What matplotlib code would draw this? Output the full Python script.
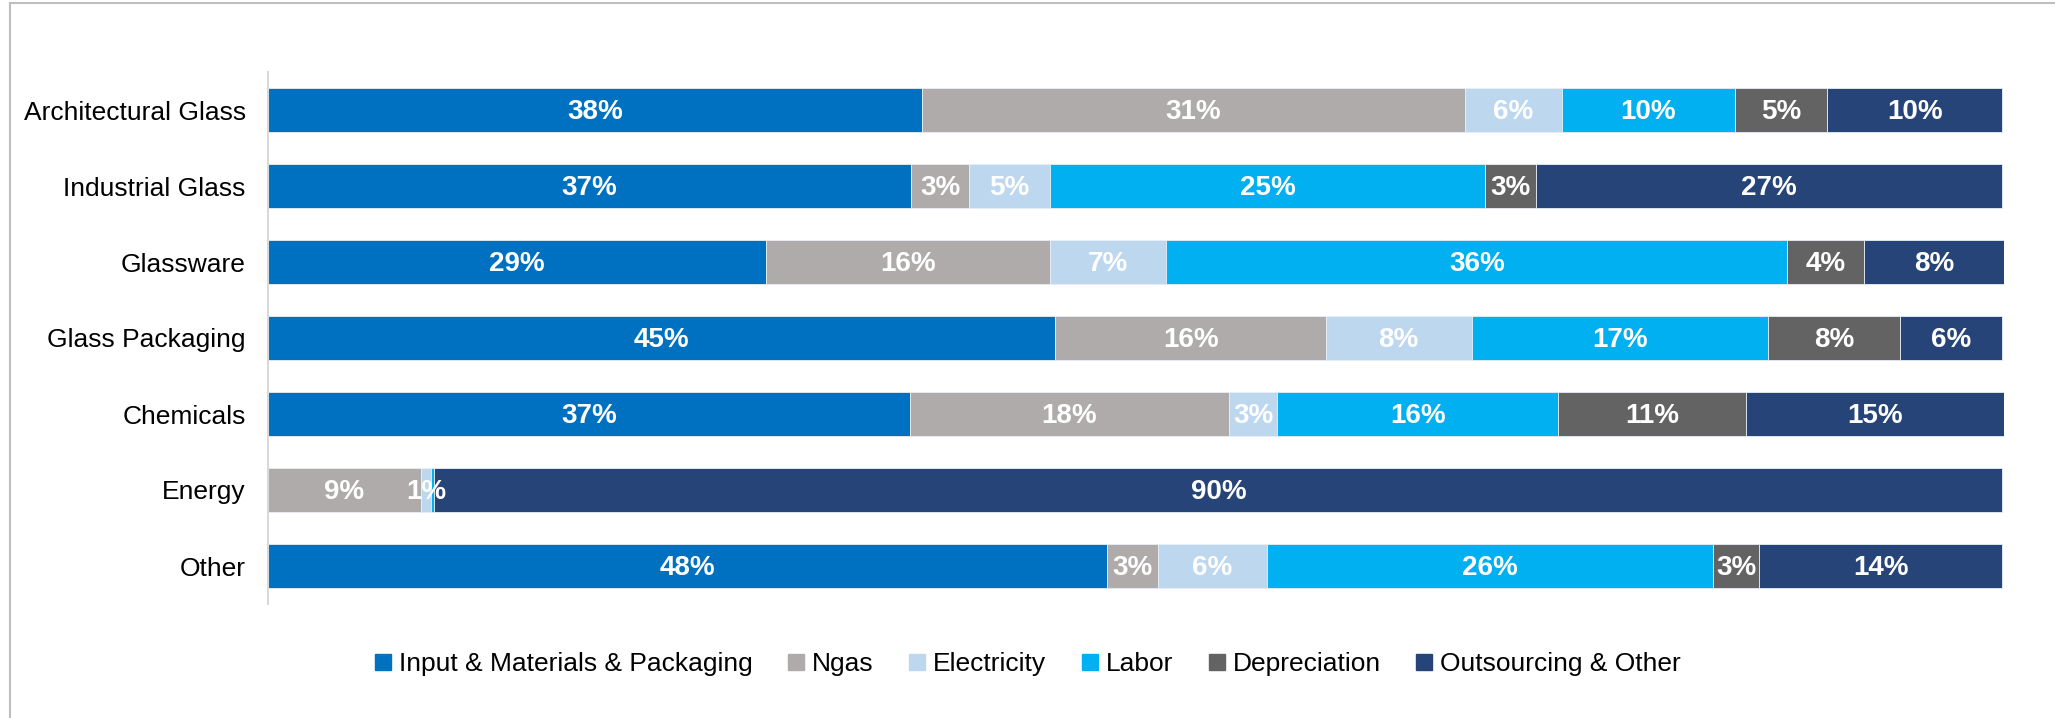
import matplotlib
matplotlib.use("Agg")
import matplotlib.pyplot as plt
from matplotlib.lines import Line2D
import numpy as np

plt.rcParams['font.family'] = ['Liberation Sans', 'DejaVu Sans']

categories = ["Architectural Glass", "Industrial Glass", "Glassware", "Glass Packaging",
              "Chemicals", "Energy", "Other"]
series_names = ["Input & Materials & Packaging", "Ngas", "Electricity", "Labor",
                "Depreciation", "Outsourcing & Other"]
input_mat = [37.7, 37.1, 28.7, 45.4, 37.0, 0.0, 48.4]
ngas = [31.3, 3.3, 16.4, 15.6, 18.4, 8.8, 2.9]
electricity = [5.6, 4.7, 6.7, 8.4, 2.8, 0.6, 6.3]
labor = [10.0, 25.1, 35.8, 17.1, 16.2, 0.2, 25.7]
depreciation = [5.3, 2.9, 4.4, 7.6, 10.8, 0.0, 2.7]
outsourcing = [10.1, 26.9, 8.1, 5.9, 14.9, 90.4, 14.0]
colors = ["#0070C0", "#AFABAB", "#BDD7EE", "#00B0F0", "#636363", "#264478"]

series = [input_mat, ngas, electricity, labor, depreciation, outsourcing]

fig = plt.figure(figsize=(20.55, 7.18), dpi=100)
ax = fig.add_axes([268/2055, 1 - 604/718, (2004 - 268)/2055, (604 - 72)/718])

y = np.arange(len(categories))
left = np.zeros(len(categories))
for name, vals, col in zip(series_names, series, colors):
    vals = np.array(vals)
    ax.barh(y, vals, left=left, height=0.57, color=col, edgecolor="#E8EEF6",
            linewidth=0.6, label=name)
    for yi, (l, v) in enumerate(zip(left, vals)):
        if v >= 0.5:
            ax.text(l + v / 2, yi + 0.02, f"{v:.0f}%", ha="center", va="center",
                    color="white", fontsize=20, fontweight="bold")
    left += vals

ax.set_xlim(0, left.max())
ax.set_ylim(len(categories) - 0.5, -0.5)
ax.set_yticks(y)
ax.set_yticklabels(categories, fontsize=19)
ax.set_xticks([])
ax.tick_params(axis="y", length=0, pad=16)
for s in ["top", "right", "bottom"]:
    ax.spines[s].set_visible(False)
ax.spines["left"].set_color("#D9D9D9")
ax.spines["left"].set_linewidth(1.5)

handles = [Line2D([], [], marker="s", linestyle="none", markersize=11,
                  markerfacecolor=c, markeredgecolor=c) for c in colors]
fig.legend(handles, series_names, loc="center", bbox_to_anchor=(1028/2055, 1 - 664/718),
           ncol=6, frameon=False, fontsize=19, handlelength=0.6, handletextpad=0.3,
           columnspacing=1.35)

# partial frame (top and left)
fig.add_artist(Line2D([10/2055, 10/2055], [0, 1 - 2.5/718], transform=fig.transFigure,
                      color="#BFBFBF", linewidth=1.5))
fig.add_artist(Line2D([10/2055, 1], [1 - 2.5/718, 1 - 2.5/718], transform=fig.transFigure,
                      color="#BFBFBF", linewidth=1.5))

fig.savefig("out.png", dpi=100)
